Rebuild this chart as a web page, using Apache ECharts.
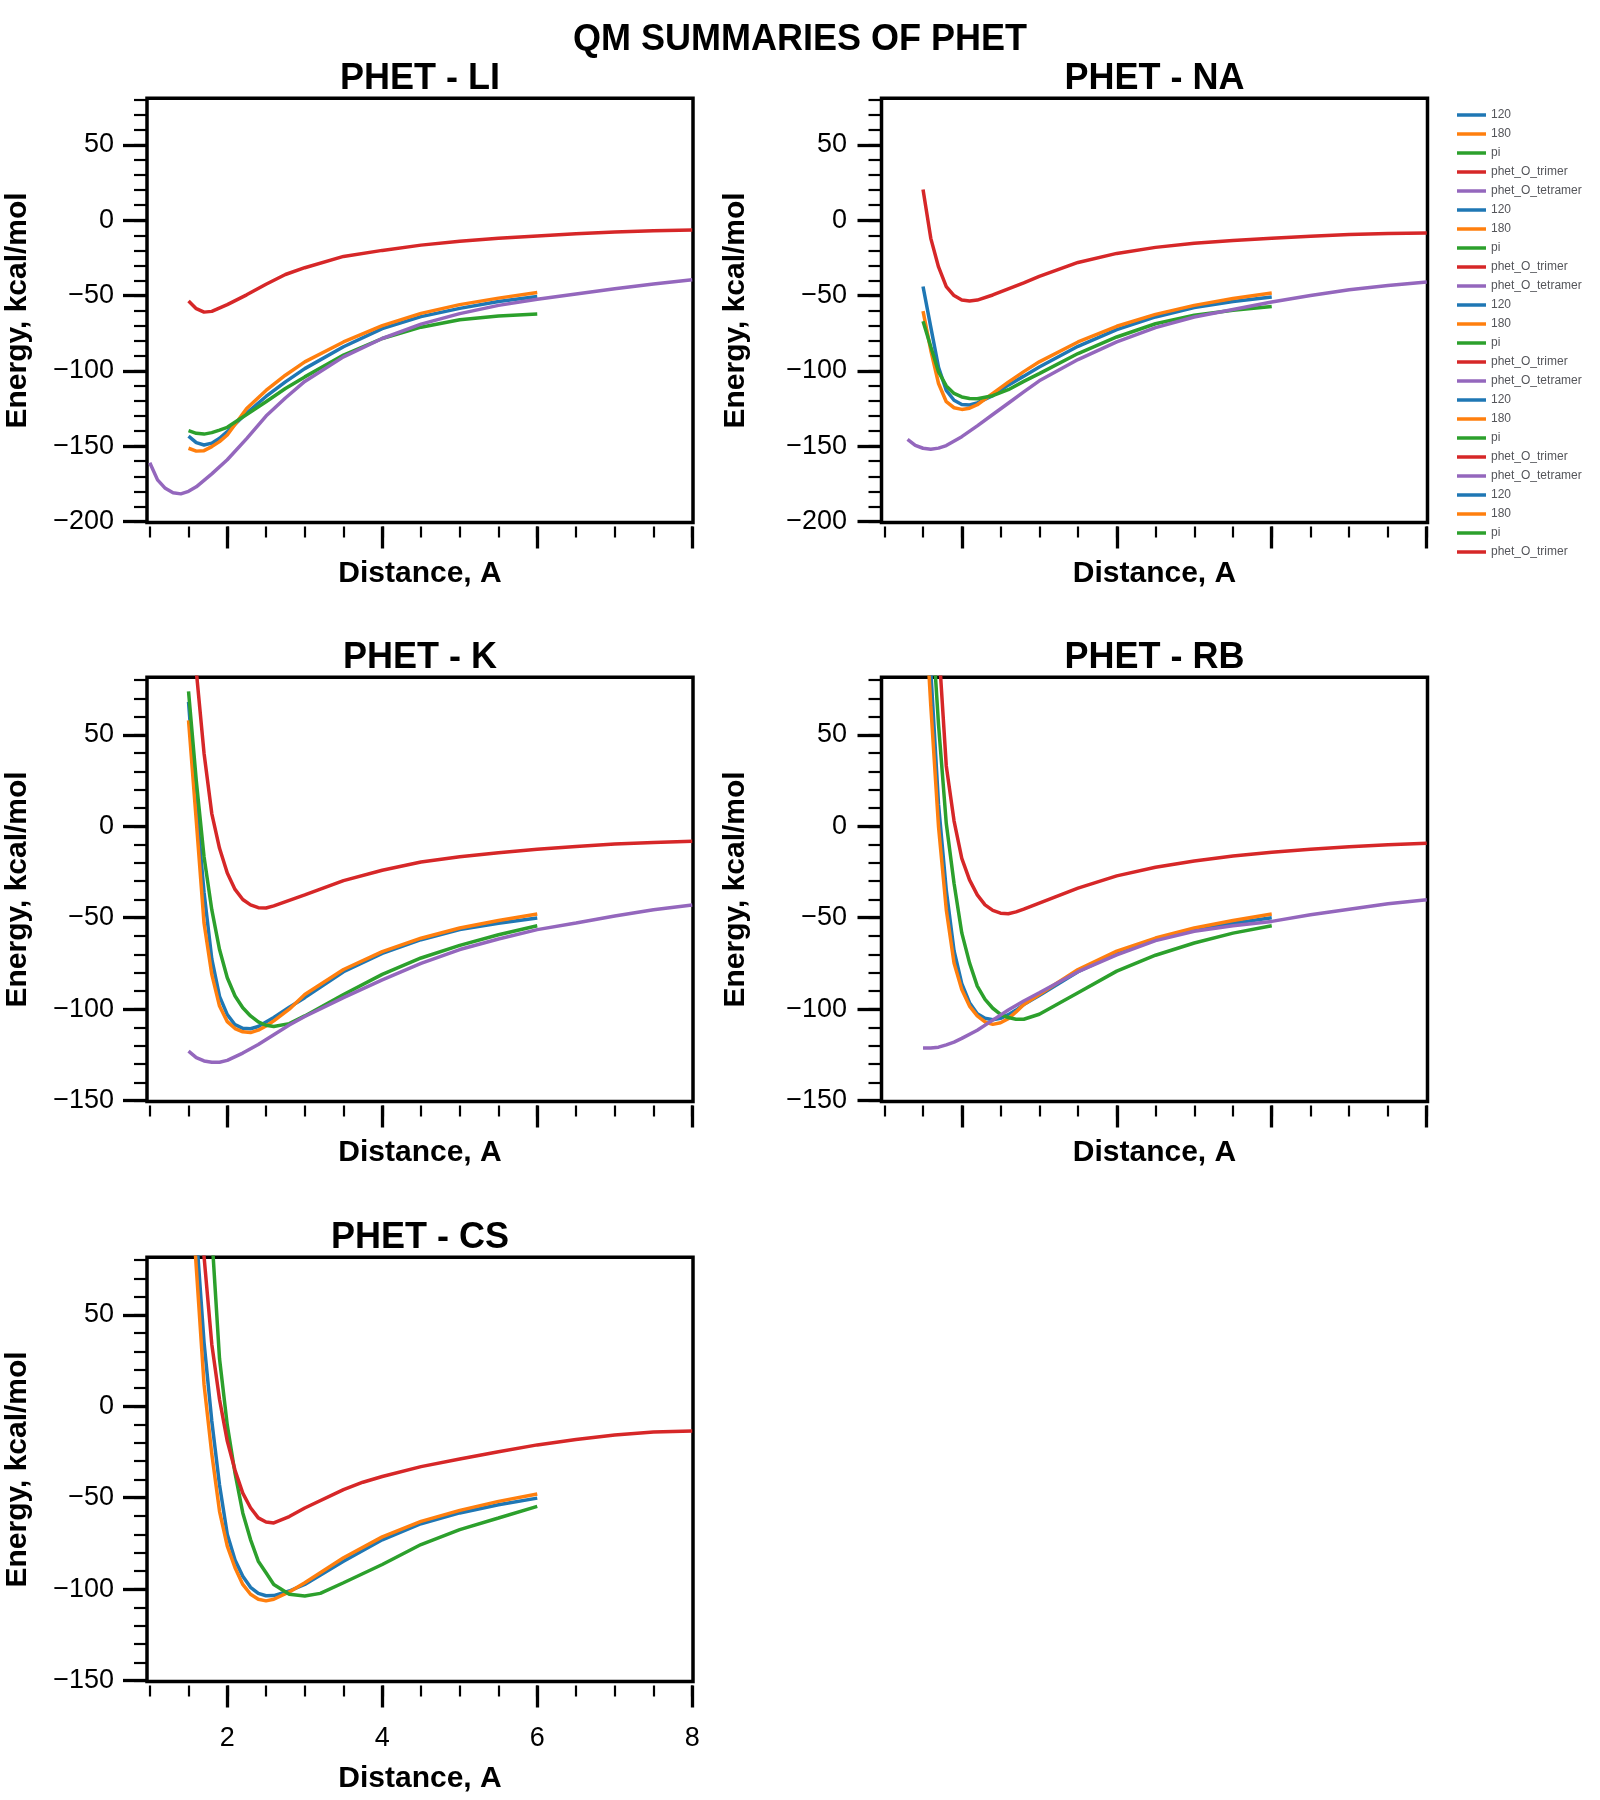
<!DOCTYPE html>
<html><head><meta charset="utf-8">
<script src="https://cdn.jsdelivr.net/npm/echarts@6/dist/echarts.min.js"></script>
<style>html,body{margin:0;padding:0;background:#fff}#c{width:1600px;height:1800px}</style>
</head><body><div id="c"></div>
<script>
// ---------- labels / ticks ----------
const mainTitle = 'QM SUMMARIES OF PHET';
const panelTitles = ['PHET - LI', 'PHET - NA', 'PHET - K', 'PHET - RB', 'PHET - CS'];
const legendLabels = ['120', '180', 'pi', 'phet_O_trimer', 'phet_O_tetramer'];
const colors = ['#1f77b4', '#ff7f0e', '#2ca02c', '#d62728', '#9467bd'];
const xMajorTicks = [2, 4, 6, 8];
const xMinorTicks = [1, 1.5, 2, 2.5, 3, 3.5, 4, 4.5, 5, 5.5, 6, 6.5, 7, 7.5, 8];
const yMajorTicksA = [-200, -150, -100, -50, 0, 50];
const yMinorTicksA = [-200, -190, -180, -170, -160, -150, -140, -130, -120, -110, -100, -90, -80, -70, -60, -50, -40, -30, -20, -10, 0, 10, 20, 30, 40, 50, 60, 70, 80];
const yMajorTicksB = [-150, -100, -50, 0, 50];
const yMinorTicksB = [-150, -140, -130, -120, -110, -100, -90, -80, -70, -60, -50, -40, -30, -20, -10, 0, 10, 20, 30, 40, 50, 60, 70, 80];

// ---------- PHET - LI ----------
const li_x = [1.5, 1.6, 1.7, 1.8, 1.9, 2.0, 2.25, 2.5, 2.75, 3.0, 3.5, 4.0, 4.5, 5.0, 5.5, 6.0];
const li_120 = [-143.3, -147.7, -149.2, -148, -144.8, -140.4, -128, -117, -107.3, -98.5, -84, -72, -64, -58.5, -54, -50.6];
const li_180 = [-151.4, -153.3, -153, -150.3, -147, -142.6, -125, -113, -102.9, -94, -80.8, -70, -61.8, -56, -51.7, -48];
const li_pi = [-139.7, -141.5, -142, -141, -139.3, -137.5, -129, -120.5, -111.7, -104, -89.5, -78.5, -71, -66, -63.5, -62.3];
const li_tri_x = [1.5, 1.6, 1.7, 1.8, 2.0, 2.25, 2.5, 2.75, 3.0, 3.5, 4.0, 4.5, 5.0, 5.5, 6.0, 6.5, 7.0, 7.5, 8.0];
const li_tri = [-53.6, -58.7, -61, -60.5, -56, -49.5, -42.5, -36, -31.5, -24, -20, -16.5, -14, -12, -10.5, -9, -7.8, -7, -6.5];
const li_tet_x = [1.0, 1.1, 1.2, 1.3, 1.4, 1.5, 1.6, 1.8, 2.0, 2.25, 2.5, 2.75, 3.0, 3.5, 4.0, 4.5, 5.0, 5.5, 6.0, 6.5, 7.0, 7.5, 8.0];
const li_tet = [-161, -172.4, -178, -181, -181.7, -180, -177, -168.4, -159, -145, -130, -118, -107, -90.7, -78.5, -69, -62, -56.5, -52.5, -49, -45.5, -42.3, -39.5];

// ---------- PHET - NA ----------
const na_x = [1.5, 1.6, 1.7, 1.8, 1.9, 2.0, 2.1, 2.2, 2.4, 2.6, 2.8, 3.0, 3.5, 4.0, 4.5, 5.0, 5.5, 6.0];
const na_120 = [-44, -71, -97.6, -113, -119.5, -122.3, -122.7, -121.3, -116.4, -109.5, -103.5, -97.4, -83.7, -72.6, -64.2, -58, -54, -51];
const na_180 = [-60.3, -86.3, -108.4, -120.5, -124.5, -125.6, -124.8, -122.5, -115, -107.5, -100.5, -94, -80.8, -70.4, -62.5, -56.5, -52, -48.3];
const na_pi = [-67.1, -84, -100.7, -110, -115, -117.3, -118.3, -118.5, -116.5, -112.5, -107, -101.8, -88.5, -77.5, -68.7, -63, -59.8, -57.2];
const na_tri_x = [1.5, 1.6, 1.7, 1.8, 1.9, 2.0, 2.1, 2.2, 2.4, 2.6, 2.8, 3.0, 3.5, 4.0, 4.5, 5.0, 5.5, 6.0, 6.5, 7.0, 7.5, 8.0];
const na_tri = [20.5, -12, -31, -44, -50, -53, -53.6, -53, -49.6, -45.5, -41.5, -37.3, -28, -22, -18, -15.3, -13.5, -12, -10.6, -9.5, -8.8, -8.4];
const na_tet_x = [1.3, 1.4, 1.5, 1.6, 1.7, 1.8, 2.0, 2.2, 2.4, 2.6, 2.8, 3.0, 3.5, 4.0, 4.5, 5.0, 5.5, 6.0, 6.5, 7.0, 7.5, 8.0];
const na_tet = [-145.5, -149.5, -151.4, -152, -151.3, -149.6, -143.7, -136.5, -129, -121.5, -114, -106.6, -92.5, -80.8, -71.3, -64.2, -59.2, -54.3, -49.9, -46.1, -43.3, -41];

// ---------- PHET - K ----------
const k_x = [1.5, 1.6, 1.7, 1.8, 1.9, 2.0, 2.1, 2.2, 2.3, 2.4, 2.5, 2.6, 2.8, 3.0, 3.5, 4.0, 4.5, 5.0, 5.5, 6.0];
const k_120 = [68, 12, -36, -72.5, -93, -103, -108.5, -110.5, -110.7, -109.5, -107, -104.5, -99, -93.7, -79.5, -69.5, -62, -56.5, -53, -50.2];
const k_180 = [58, 3, -52.9, -81, -98.3, -106.8, -110.6, -112.4, -112.8, -111.5, -109.2, -106.4, -100, -92, -78.3, -68.5, -61.2, -55.6, -51.5, -48];
const k_pi = [73.8, 25, -16.6, -45.6, -67.4, -82.8, -92.8, -99.2, -103.7, -107, -108.8, -109.5, -107.9, -103.7, -92, -81, -72, -65.1, -59.3, -54.4];
const k_tri_x = [1.5, 1.6, 1.7, 1.8, 1.9, 2.0, 2.1, 2.2, 2.3, 2.4, 2.5, 2.6, 2.8, 3.0, 3.5, 4.0, 4.5, 5.0, 5.5, 6.0, 6.5, 7.0, 7.5, 8.0];
const k_tri = [140, 85, 40, 7, -12, -25.5, -34.5, -40, -43, -44.5, -44.7, -43.5, -40.5, -37.5, -29.7, -24, -19.5, -16.6, -14.4, -12.6, -11, -9.7, -8.8, -8.1];
const k_tet_x = [1.5, 1.6, 1.7, 1.8, 1.9, 2.0, 2.2, 2.4, 2.6, 2.8, 3.0, 3.5, 4.0, 4.5, 5.0, 5.5, 6.0, 6.5, 7.0, 7.5, 8.0];
const k_tet = [-123, -126.5, -128.3, -129, -129, -128, -124, -119.3, -114, -108.7, -104, -93.7, -84, -75, -67.4, -61.6, -56.5, -52.9, -49, -45.6, -43];

// ---------- PHET - RB ----------
const rb_x = [1.5, 1.6, 1.7, 1.8, 1.9, 2.0, 2.1, 2.2, 2.3, 2.4, 2.5, 2.6, 2.7, 2.8, 3.0, 3.5, 4.0, 4.5, 5.0, 5.5, 6.0];
const rb_120 = [150, 85, 12, -35, -68, -86, -96.5, -102.5, -105, -105.8, -105, -103, -100.5, -97.5, -92.5, -79.5, -69.5, -62, -56.5, -53, -50];
const rb_180 = [140, 66, -0.3, -45.6, -74.7, -89.2, -98.3, -103.7, -107, -108.3, -107.4, -105.2, -101.5, -97.4, -92, -78.3, -68.3, -61.1, -55.6, -51.5, -48];
const rb_pi = [190, 122, 55.6, 1.5, -31.1, -58.3, -74.7, -87.4, -94.6, -99.5, -102.8, -104.6, -105.5, -105.5, -102.8, -91, -79.2, -70.5, -63.8, -58.4, -54.4];
const rb_tri_x = [1.6, 1.7, 1.8, 1.9, 2.0, 2.1, 2.2, 2.3, 2.4, 2.5, 2.6, 2.7, 2.8, 3.0, 3.5, 4.0, 4.5, 5.0, 5.5, 6.0, 6.5, 7.0, 7.5, 8.0];
const rb_tri = [170, 100, 33, 3, -17.5, -29.3, -37.5, -43, -46, -47.5, -47.8, -46.8, -45.3, -42, -33.8, -27.1, -22.4, -19, -16.2, -14.2, -12.6, -11.2, -10.1, -9.3];
const rb_tet_x = [1.5, 1.6, 1.7, 1.8, 1.9, 2.0, 2.2, 2.4, 2.6, 2.8, 3.0, 3.5, 4.0, 4.5, 5.0, 5.5, 6.0, 6.5, 7.0, 7.5, 8.0];
const rb_tet = [-121.3, -121.3, -120.8, -119.5, -118, -116, -111.5, -106, -100.5, -95.5, -91, -79.5, -70.3, -62.5, -57.4, -54.4, -52, -48.4, -45.3, -42.4, -40.2];

// ---------- PHET - CS ----------
const cs_x = [1.5, 1.6, 1.7, 1.8, 1.9, 2.0, 2.1, 2.2, 2.3, 2.4, 2.5, 2.6, 2.8, 3.0, 3.5, 4.0, 4.5, 5.0, 5.5, 6.0];
const cs_120 = [150, 95, 35, -8, -43, -70, -84, -93, -99, -102.3, -103.6, -103.5, -101, -97.4, -84.7, -73, -64.2, -58.3, -53.8, -50.2];
const cs_180 = [140, 76, 12, -26, -57.4, -76.5, -88.3, -97.4, -102.8, -105.5, -106.4, -105.5, -101.5, -96.5, -82.8, -71.4, -62.9, -56.9, -52, -48];
const cs_pi_x = [1.7, 1.8, 1.9, 2.0, 2.1, 2.2, 2.3, 2.4, 2.5, 2.6, 2.8, 3.0, 3.2, 3.5, 4.0, 4.5, 5.0, 5.5, 6.0];
const cs_pi = [150, 94, 26, -10.3, -36.6, -58.3, -72.9, -84.7, -91, -97.4, -102.8, -103.7, -102.3, -96.5, -86.5, -75.6, -67.4, -61.1, -54.7];
const cs_tri_x = [1.6, 1.7, 1.8, 1.9, 2.0, 2.1, 2.2, 2.3, 2.4, 2.5, 2.6, 2.8, 3.0, 3.5, 3.75, 4.0, 4.5, 5.0, 5.5, 6.0, 6.5, 7.0, 7.5, 8.0];
const cs_tri = [130, 82, 34, 3.7, -19, -35, -47.5, -55.5, -61, -63.3, -63.8, -60.3, -55.6, -45.6, -41.5, -38.4, -33, -28.8, -24.8, -21.1, -18.1, -15.7, -14.1, -13.5];

// ---------- assembly ----------
const panels = [
  { key: 'LI', lines: [[li_x, li_120], [li_x, li_180], [li_x, li_pi], [li_tri_x, li_tri], [li_tet_x, li_tet]] },
  { key: 'NA', lines: [[na_x, na_120], [na_x, na_180], [na_x, na_pi], [na_tri_x, na_tri], [na_tet_x, na_tet]] },
  { key: 'K', lines: [[k_x, k_120], [k_x, k_180], [k_x, k_pi], [k_tri_x, k_tri], [k_tet_x, k_tet]] },
  { key: 'RB', lines: [[rb_x, rb_120], [rb_x, rb_180], [rb_x, rb_pi], [rb_tri_x, rb_tri], [rb_tet_x, rb_tet]] },
  { key: 'CS', lines: [[cs_x, cs_120], [cs_x, cs_180], [cs_pi_x, cs_pi], [cs_tri_x, cs_tri]] }
];

const FONT = 'Liberation Sans, Arial, sans-serif';
const colLeft = [147, 881.5];
const rowTop = [98.3, 677.3, 1257.3];
const gridW = 546, gridH = 424.2;
const minus = v => String(v).replace('-', '\u2212');

const grids = [], xAxes = [], yAxes = [], titles = [], series = [];
titles.push({ text: mainTitle, left: 800, top: 22, textAlign: 'center', padding: 0,
  textStyle: { fontSize: 36, fontWeight: 'bold', color: '#000', fontFamily: FONT } });

panels.forEach((p, g) => {
  const col = g % 2, row = Math.floor(g / 2);
  const left = colLeft[col], top = rowTop[row];
  const isA = g < 2;
  grids.push({ left: left, top: top, width: gridW, height: gridH, show: true,
    borderColor: '#000', borderWidth: 3.5, backgroundColor: 'transparent' });
  titles.push({ text: panelTitles[g], left: left + gridW / 2, top: top - 37.6, textAlign: 'center', padding: 0,
    textStyle: { fontSize: 36, fontWeight: 'bold', color: '#000', fontFamily: FONT } });
  const xCommon = { type: 'value', gridIndex: g, min: 0.964, max: 8.01, position: 'bottom', offset: 4,
    axisLine: { show: false, onZero: false }, splitLine: { show: false } };
  xAxes.push(Object.assign({}, xCommon, {
    name: 'Distance, A', nameLocation: 'middle', nameGap: g === 4 ? 77.8 : 32.5,
    nameTextStyle: { fontSize: 30, fontWeight: 'bold', color: '#000', fontFamily: FONT },
    axisTick: { customValues: xMajorTicks, length: 22, lineStyle: { color: '#000', width: 3.3 } },
    axisLabel: { show: g === 4, customValues: xMajorTicks, fontSize: 27, color: '#000', margin: 40, fontFamily: FONT }
  }));
  xAxes.push(Object.assign({}, xCommon, {
    axisTick: { customValues: xMinorTicks, length: 11, lineStyle: { color: '#000', width: 2.2 } },
    axisLabel: { show: false }
  }));
  const yMin = isA ? -200.7 : -150.5;
  const yMax = isA ? 81 : 81.5;
  const yCommon = { type: 'value', gridIndex: g, min: yMin, max: yMax, position: 'left',
    axisLine: { show: false, onZero: false }, splitLine: { show: false } };
  yAxes.push(Object.assign({}, yCommon, {
    name: 'Energy, kcal/mol', nameLocation: 'middle', nameGap: col === 0 ? 114 : 131,
    nameTextStyle: { fontSize: 30, fontWeight: 'bold', color: '#000', fontFamily: FONT },
    axisTick: { customValues: isA ? yMajorTicksA : yMajorTicksB, length: 24, lineStyle: { color: '#000', width: 3.3 } },
    axisLabel: { customValues: isA ? yMajorTicksA : yMajorTicksB, fontSize: 27, color: '#000',
      margin: col === 0 ? 33 : 34.5, padding: [3, 0, 0, 0], fontFamily: FONT, formatter: minus }
  }));
  yAxes.push(Object.assign({}, yCommon, {
    axisTick: { customValues: isA ? yMinorTicksA : yMinorTicksB, length: 13, lineStyle: { color: '#000', width: 2.2 } },
    axisLabel: { show: false }
  }));
  p.lines.forEach((ln, i) => {
    const xs = ln[0], ys = ln[1];
    series.push({
      type: 'line', name: legendLabels[i] + '|' + p.key,
      xAxisIndex: 2 * g, yAxisIndex: 2 * g,
      data: xs.map((x, j) => [x, ys[j]]),
      showSymbol: false, symbol: 'none', clip: true,
      color: colors[i],
      lineStyle: { width: 3.5, color: colors[i] },
      z: 2 + i
    });
  });
});

const chart = echarts.init(document.getElementById('c'), null, { renderer: 'canvas' });
chart.setOption({
  animation: false,
  backgroundColor: '#fff',
  textStyle: { fontFamily: FONT },
  title: titles,
  legend: {
    orient: 'vertical', left: 1457, top: 109, padding: 0,
    icon: 'rect', itemWidth: 29, itemHeight: 3.5, itemGap: 7,
    formatter: n => n.split('|')[0],
    textStyle: { fontSize: 12, lineHeight: 12, fontFamily: FONT }
  },
  grid: grids,
  xAxis: xAxes,
  yAxis: yAxes,
  series: series
});
</script>
</body></html>
